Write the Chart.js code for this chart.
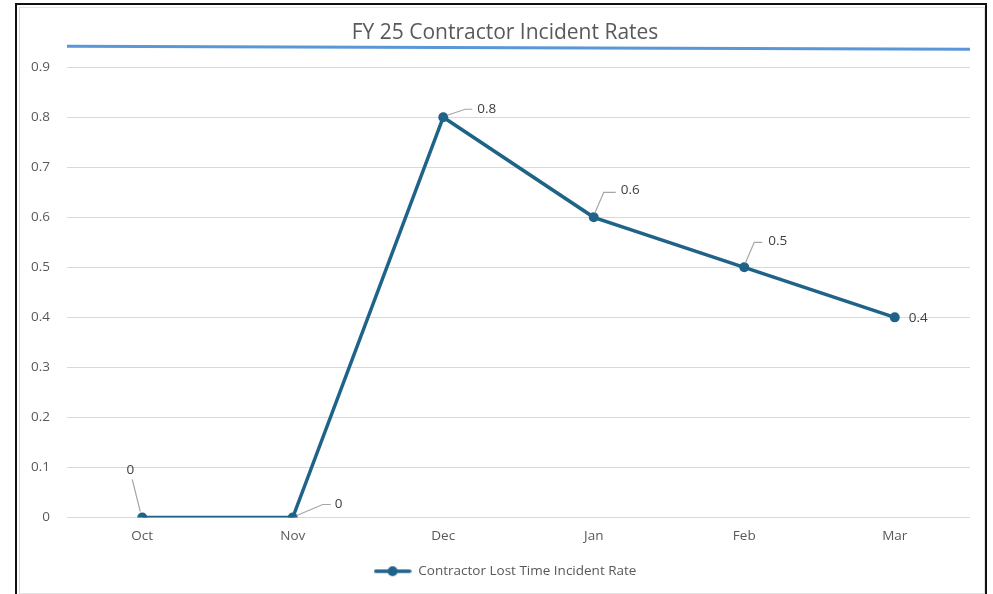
<!DOCTYPE html>
<html>
<head>
<meta charset="utf-8">
<script src="https://cdn.jsdelivr.net/npm/chart.js"></script>
<style>
  html, body { margin: 0; padding: 0; background: #ffffff; }
  body { width: 993px; height: 594px; position: relative; overflow: hidden; }
  .frame {
    position: absolute; left: 15px; top: 3px; width: 968px; height: 600px;
    border: 2px solid #111111; box-sizing: content-box;
  }
  .inner {
    position: absolute; left: 19px; top: 7px; width: 964px; height: 585px;
    border: 1px solid #e3e3e3; border-left-color: #d6d6d6;
  }
  #wrap { position: absolute; left: 0; top: 0; width: 993px; height: 594px; }
</style>
</head>
<body>
<div class="frame"></div>
<div class="inner"></div>
<div id="wrap"><canvas id="chart"></canvas></div>
<script>
const CHART_TITLE = "FY 25 Contractor Incident Rates";
const SERIES_NAME = "Contractor Lost Time Incident Rate";
const MONTHS = ["Oct", "Nov", "Dec", "Jan", "Feb", "Mar"];
const INCIDENT_RATES = [0, 0, 0.8, 0.6, 0.5, 0.4];
const Y_TICKS = [0, 0.1, 0.2, 0.3, 0.4, 0.5, 0.6, 0.7, 0.8, 0.9];
// the light blue rule across the top (start / end value)
const TOP_RULE = [0.942, 0.936];

const LINE_COLOR = "#1f6389";
const TEXT_COLOR = "#595959";
const FONT = "'Open Sans', 'Noto Sans', sans-serif";

// where each data label sits relative to its point, plus its leader elbow
const LABEL_PLACEMENT = [
  { dx: -12, dy: -47, align: "center", leader: [[-2, -6], [-10, -38]] },
  { dx: 42, dy: -13, align: "left", leader: [[4, -2], [30, -13], [38, -13]] },
  { dx: 34, dy: -8, align: "left", leader: [[4, -2], [22, -8], [29, -8]] },
  { dx: 27, dy: -27, align: "left", leader: [[1, -4], [10, -25], [22, -25]] },
  { dx: 24, dy: -26, align: "left", leader: [[1, -4], [10, -25], [18, -25]] },
  { dx: 14, dy: 1, align: "left", leader: null },
];

function legendIcon() {
  const c = document.createElement("canvas");
  c.width = 38;
  c.height = 12;
  const ctx = c.getContext("2d");
  ctx.strokeStyle = LINE_COLOR;
  ctx.lineWidth = 3.5;
  ctx.lineCap = "round";
  ctx.beginPath();
  ctx.moveTo(2, 6);
  ctx.lineTo(36, 6);
  ctx.stroke();
  ctx.fillStyle = LINE_COLOR;
  ctx.beginPath();
  ctx.arc(19, 6, 5, 0, Math.PI * 2);
  ctx.fill();
  return c;
}

// title and legend sit a little right of the plot's centre in the original
const shiftBlocksPlugin = {
  id: "shiftBlocks",
  afterLayout(chart) {
    [chart.titleBlock, chart.legend].forEach((box) => {
      if (!box) return;
      box.left += 20;
      box.right += 20;
    });
  },
};

const topRulePlugin = {
  id: "topRule",
  afterDraw(chart) {
    const { ctx, chartArea, scales } = chart;
    ctx.save();
    ctx.strokeStyle = "#5a97d8";
    ctx.lineWidth = 3;
    ctx.beginPath();
    ctx.moveTo(chartArea.left, scales.y.getPixelForValue(TOP_RULE[0]));
    ctx.lineTo(chartArea.right, scales.y.getPixelForValue(TOP_RULE[1]));
    ctx.stroke();
    ctx.restore();
  },
};

const dataLabelPlugin = {
  id: "dataLabels",
  afterDatasetsDraw(chart) {
    const { ctx } = chart;
    const points = chart.getDatasetMeta(0).data;
    ctx.save();
    points.forEach((pt, i) => {
      const place = LABEL_PLACEMENT[i];
      if (place.leader) {
        ctx.strokeStyle = "#a6a6a6";
        ctx.lineWidth = 1.2;
        ctx.beginPath();
        place.leader.forEach(([lx, ly], k) => {
          if (k === 0) ctx.moveTo(pt.x + lx, pt.y + ly);
          else ctx.lineTo(pt.x + lx, pt.y + ly);
        });
        ctx.stroke();
      }
      ctx.fillStyle = "#404040";
      ctx.font = `13.5px ${FONT}`;
      ctx.textAlign = place.align;
      ctx.textBaseline = "middle";
      ctx.fillText(String(INCIDENT_RATES[i]), pt.x + place.dx, pt.y + place.dy);
    });
    ctx.restore();
  },
};

new Chart(document.getElementById("chart"), {
  type: "line",
  data: {
    labels: MONTHS,
    datasets: [{
      label: SERIES_NAME,
      data: INCIDENT_RATES,
      borderColor: LINE_COLOR,
      backgroundColor: LINE_COLOR,
      borderWidth: 3.5,
      pointRadius: 5,
      pointHoverRadius: 5,
      pointBorderWidth: 0,
      tension: 0,
      fill: false,
    }],
  },
  options: {
    responsive: true,
    maintainAspectRatio: false,
    animation: false,
    layout: { padding: { left: 0, right: 23, top: 10, bottom: 6 } },
    plugins: {
      title: {
        display: true,
        text: CHART_TITLE,
        color: TEXT_COLOR,
        font: { family: FONT, size: 21, weight: "normal" },
        padding: { top: 10, bottom: 22 },
      },
      legend: {
        position: "bottom",
        labels: {
          color: TEXT_COLOR,
          font: { family: FONT, size: 13.5 },
          usePointStyle: true,
          pointStyle: legendIcon(),
          pointStyleWidth: 38,
          padding: 10,
        },
      },
      tooltip: { enabled: false },
    },
    scales: {
      x: {
        offset: true,
        grid: { display: false, drawTicks: false },
        border: { display: false },
        ticks: { color: TEXT_COLOR, font: { family: FONT, size: 13.5 }, padding: 11 },
        afterFit(scale) { scale.height = 37; },
      },
      y: {
        min: 0,
        max: 0.9,
        afterBuildTicks(scale) { scale.ticks = Y_TICKS.map((v) => ({ value: v })); },
        grid: { color: "#d9d9d9", lineWidth: 1, drawTicks: false },
        border: { display: false },
        ticks: { color: TEXT_COLOR, font: { family: FONT, size: 13.5 }, padding: 17 },
        afterFit(scale) { scale.width = 67; },
      },
    },
  },
  plugins: [shiftBlocksPlugin, topRulePlugin, dataLabelPlugin],
});
</script>
</body>
</html>
